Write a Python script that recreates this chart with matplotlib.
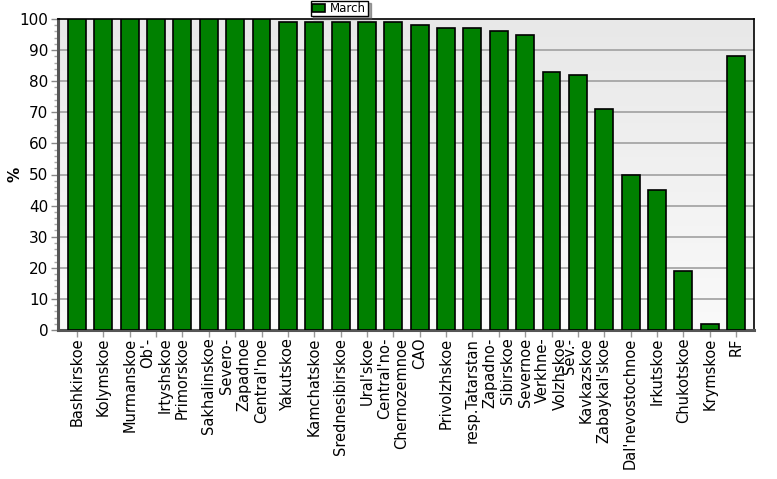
import matplotlib
matplotlib.use("Agg")
import matplotlib.pyplot as plt
import numpy as np

categories = ["Bashkirskoe", "Kolymskoe", "Murmanskoe", "Ob'-\nIrtyshskoe", "Primorskoe",
              "Sakhalinskoe", "Severo-\nZapadnoe", "Central'noe", "Yakutskoe", "Kamchatskoe",
              "Srednesibirskoe", "Ural'skoe", "Central'no-\nChernozemnoe", "CAO", "Privolzhskoe",
              "resp.Tatarstan", "Zapadno-\nSibirskoe", "Severnoe", "Verkhne-\nVolzhskoe",
              "Sev.-\nKavkazskoe", "Zabaykal'skoe", "Dal'nevostochnoe", "Irkutskoe",
              "Chukotskoe", "Krymskoe", "RF"]
march = [100, 100, 100, 100, 100, 100, 100, 100, 99, 99, 99, 99, 99, 98, 97, 97, 96, 95,
         83, 82, 71, 50, 45, 19, 2, 88]
series_name = "March"
yticks = list(range(0, 101, 10))

fig = plt.figure(figsize=(7.77, 4.79), dpi=100)
ax = fig.add_axes([58/777, 1-330/479, (754-58)/777, (330-19)/479])

x = np.arange(len(categories))
xmin, xmax = -0.72, len(categories) - 1 + 0.68
ax.set_xlim(xmin, xmax)
ax.set_ylim(0, 100)

# gradient background
grad = np.linspace(0, 1, 256).reshape(-1, 1)
ax.imshow(grad, extent=[xmin, xmax, 0, 100], aspect='auto',
          cmap=matplotlib.colors.LinearSegmentedColormap.from_list('g', ['#fafafa', '#e8e8e8']),
          origin='lower', zorder=0)

for yv in yticks[1:-1]:
    ax.axhline(yv, color='#a0a0a0', lw=1.2, zorder=1)

ax.bar(x, march, width=0.68, color='#008000', edgecolor='black', linewidth=1.2, zorder=3,
       label=series_name)

ax.set_yticks(yticks)
ax.set_yticks(range(0, 101, 2), minor=True)
ax.tick_params(axis='y', which='major', length=5, width=1, color='#888888', labelsize=11, pad=2)
ax.tick_params(axis='y', which='minor', length=3, width=1, color='#aaaaaa')
ax.set_xticks(x)
ax.set_xticklabels(categories, rotation=90, fontsize=10.5, ha='center', va='top',
                   multialignment='right')
ax.tick_params(axis='x', length=5, width=1, color='#999999', pad=0.5)

for s in ['top', 'right']:
    ax.spines[s].set_color('black')
    ax.spines[s].set_linewidth(1.2)
ax.spines['left'].set_color('#555555')
ax.spines['left'].set_linewidth(2.2)
ax.spines['bottom'].set_color('#555555')
ax.spines['bottom'].set_linewidth(2.2)

fig.text(15/777, 1-174/479, '%', rotation=90, fontsize=11, fontweight='bold',
         ha='center', va='center')

# legend
leg = ax.legend(loc='upper left', bbox_to_anchor=(310/777, 1.0), bbox_transform=fig.transFigure,
                frameon=True, fancybox=False, shadow=True, fontsize=8.5, handlelength=1.1,
                handleheight=0.75, borderpad=0.12, handletextpad=0.45, borderaxespad=0.05)
leg.get_frame().set_edgecolor('black')
leg.get_frame().set_linewidth(1.0)

fig.savefig('out.png', dpi=100)
